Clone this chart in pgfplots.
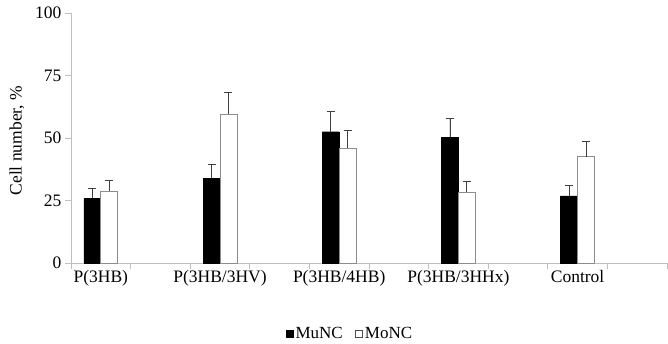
\documentclass[border=0pt]{standalone}
\usepackage{pgfplots}
\pgfplotsset{compat=1.18}
\usepackage{pgfplotstable}
\usepackage{fontspec}
\setmainfont{Liberation Serif}
\definecolor{axgray}{HTML}{BFBFBF}
\definecolor{bargray}{HTML}{8C8C8C}
\definecolor{errgray}{HTML}{404040}
\pgfplotstableread{
xMu xMo MuNC eMu MoNC eMo
-0.1425 0.1425 25.9 3.8 28.8 4.4
1.8575 2.1425 33.9 5.4 59.5 8.8
3.8575 4.1425 52.5 8.0 45.9 7.0
5.8575 6.1425 50.3 7.4 28.3 4.2
7.8575 8.1425 26.9 4.2 42.5 6.0
}\datatable
\begin{document}
\begin{tikzpicture}
\path[use as bounding box] (-71bp,-81bp) rectangle (597bp,263bp);
\begin{axis}[
  at={(0,0)}, anchor=south west,
  scale only axis, width=596bp, height=250bp,
  xmin=-0.5, xmax=9.5, ymin=0, ymax=100,
  axis lines*=left,
  axis line style={draw=axgray, line width=0.8bp},
  tick style={draw=axgray, line width=0.8bp},
  tick align=outside,
  major tick length=6bp,
  ytick={0,25,50,75,100},
  xtick={-0.5,0.5,1.5,2.5,3.5,4.5,5.5,6.5,7.5,8.5,9.5},
  xticklabels={},
  extra x ticks={0,2,4,6,8},
  extra x tick labels={P(3HB),P(3HB/3HV),P(3HB/4HB),P(3HB/3HHx),Control},
  extra x tick style={major tick length=0pt, tick label style={yshift=-4bp}},
  /pgf/number format/assume math mode=true,
  tick label style={font=\fontsize{17.5bp}{20bp}\selectfont},
  ylabel={Cell number, \%},
  ylabel style={font=\fontsize{17.5bp}{20bp}\selectfont, at={(axis description cs:-0.0906,0.49)}, anchor=center},
  legend columns=2,
  legend style={draw=none, fill=none, at={(0.468,-0.284)}, anchor=center,
    inner sep=0pt, nodes={inner ysep=1bp},
    font=\fontsize{17bp}{20bp}\selectfont,
    /tikz/every even column/.append style={column sep=10bp}},
  legend image code/.code={\draw[#1] (0bp,-3.5bp) rectangle (7.5bp,4bp);},
]
\addplot[ybar, bar width=0.285, bar shift=0, fill=black, draw=black, forget plot,
  error bars/.cd, y dir=plus, y explicit,
  error bar style={draw=errgray, line width=0.8bp},
  error mark=-,
  error mark options={rotate=90, mark size=4bp, draw=errgray, line width=0.8bp}]
  table[x=xMu, y=MuNC, y error=eMu] {\datatable};
\addplot[ybar, bar width=0.285, bar shift=0, fill=white, draw=bargray, line width=0.9bp, forget plot,
  error bars/.cd, y dir=plus, y explicit,
  error bar style={draw=errgray, line width=0.8bp},
  error mark=-,
  error mark options={rotate=90, mark size=4bp, draw=errgray, line width=0.8bp}]
  table[x=xMo, y=MoNC, y error=eMo] {\datatable};
\addlegendimage{fill=black, draw=black}
\addlegendentry{MuNC}
\addlegendimage{fill=white, draw=black!70, line width=0.6bp}
\addlegendentry{MoNC}
\end{axis}
\end{tikzpicture}
\end{document}
